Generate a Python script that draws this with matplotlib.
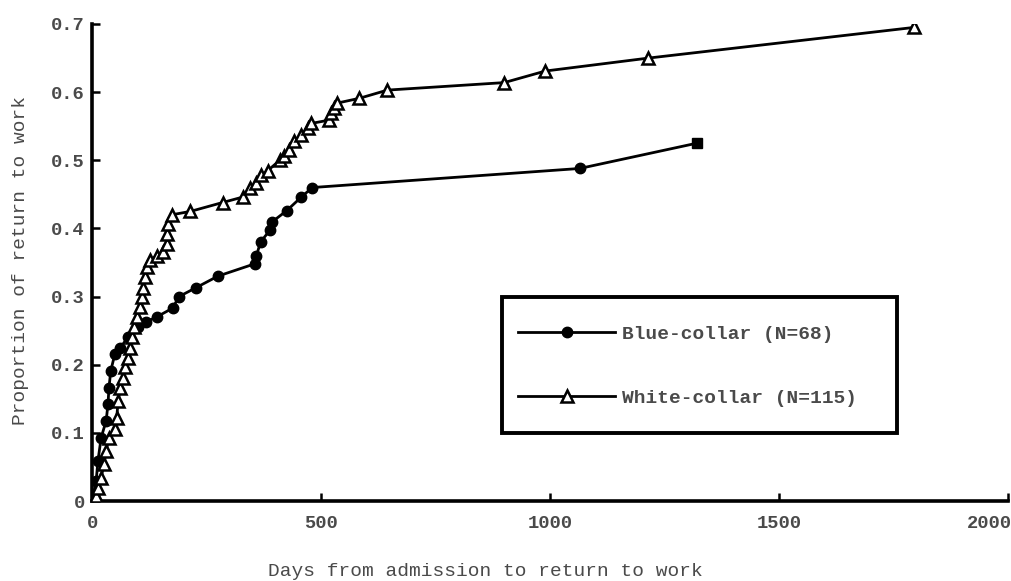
import matplotlib
matplotlib.use("Agg")
import matplotlib.pyplot as plt
from matplotlib.patches import Rectangle
from matplotlib.lines import Line2D
from matplotlib.transforms import ScaledTranslation

# ---- data ----
blue_days = [0, 4, 9, 13, 20, 31, 35, 37, 41, 50, 62, 78, 100, 118, 141, 176, 190,
             227, 275, 355, 359, 368, 388, 394, 425, 457, 481, 1065, 1320]
blue_prop = [0.0, 0.01, 0.029, 0.059, 0.093, 0.118, 0.143, 0.166, 0.191, 0.216, 0.225,
             0.24, 0.255, 0.263, 0.27, 0.283, 0.30, 0.313, 0.33, 0.348, 0.36, 0.38,
             0.397, 0.41, 0.426, 0.446, 0.46, 0.488, 0.525]

white_days = [0, 9, 13, 20, 26, 31, 37, 50, 54, 57, 62, 68, 72, 78, 83, 87, 92, 98,
              105, 109, 112, 115, 120, 127, 141, 155, 163, 164, 167, 174, 215, 285,
              329, 344, 359, 370, 384, 410, 420, 431, 442, 457, 471, 478, 518, 522,
              529, 536, 584, 645, 900, 990, 1215, 1795]
white_prop = [0.0, 0.007, 0.019, 0.034, 0.054, 0.074, 0.093, 0.105, 0.122, 0.147,
              0.166, 0.181, 0.196, 0.21, 0.225, 0.24, 0.255, 0.27, 0.284, 0.299,
              0.313, 0.328, 0.343, 0.353, 0.36, 0.365, 0.377, 0.392, 0.407, 0.42,
              0.425, 0.438, 0.446, 0.459, 0.466, 0.478, 0.485, 0.50, 0.507, 0.515,
              0.529, 0.537, 0.547, 0.554, 0.559, 0.569, 0.576, 0.584, 0.591, 0.603,
              0.614, 0.631, 0.65, 0.695]

labels = ["Blue-collar (N=68)", "White-collar (N=115)"]
x_ticks = [0, 500, 1000, 1500, 2000]
y_ticks = [0, 0.1, 0.2, 0.3, 0.4, 0.5, 0.6, 0.7]
y_ticklabels = ["0", "0.1", "0.2", "0.3", "0.4", "0.5", "0.6", "0.7"]
xlabel = "Days from admission to return to work"
ylabel = "Proportion of return to work"

# ---- style ----
FONT = "Liberation Mono"
TXT = "#4a4a4a"
WEIGHT = "bold"
plt.rcParams["font.family"] = [FONT, "DejaVu Sans Mono"]
plt.rcParams["font.weight"] = WEIGHT

W, H = 1011, 581
fig = plt.figure(figsize=(W / 100, H / 100), dpi=100)
ax = fig.add_axes([92 / W, (H - 501) / H, (1008 - 92) / W, (501 - 24) / H])

ax.set_xlim(0, 2000)
ax.set_ylim(0, 0.7)

LW = 2.0
# curves
n_b = len(blue_days)
ax.plot(blue_days, blue_prop, color="black", lw=LW, marker="o", ms=7.5,
        mfc="black", mec="black", markevery=list(range(n_b - 1)), zorder=3)
ax.plot(blue_days[-1:], blue_prop[-1:], linestyle="none", marker="s", ms=7,
        mfc="black", mec="black", zorder=3)
ax.plot(white_days, white_prop, color="black", lw=LW, marker="^", ms=8,
        mfc="white", mec="black", mew=1.8, zorder=4)

# spines & ticks
for s in ["top", "right"]:
    ax.spines[s].set_visible(False)
for s in ["left", "bottom"]:
    ax.spines[s].set_linewidth(2.6)
ax.set_xticks(x_ticks)
ax.set_yticks(y_ticks)
ax.set_yticklabels(y_ticklabels)
ax.tick_params(direction="in", length=6, width=1.8, colors="black",
               labelcolor=TXT, labelsize=13.5)
ax.tick_params(axis="x", pad=10)
ax.tick_params(axis="y", pad=5)

# shift the last x tick label left (it is cut at the image edge in the reference)
fig.canvas.draw()
lab = ax.get_xticklabels()[-1]
lab.set_transform(lab.get_transform() + ScaledTranslation(-19 / 100, 0, fig.dpi_scale_trans))

ax.set_xlabel(xlabel, fontsize=14, color=TXT, va="center")
ax.xaxis.set_label_coords(0.429, -0.147)
ax.set_ylabel(ylabel, fontsize=14, color=TXT, va="center")
ax.yaxis.set_label_coords(-0.078, 0.504)

# legend with rectangular frame
x0, x1 = (502 - 92) / 916, (897 - 92) / 916
y1, y0 = (501 - 297) / 477, (501 - 433) / 477
ax.add_patch(Rectangle((x0, y0), x1 - x0, y1 - y0, transform=ax.transAxes,
                       fill=False, lw=2.8, ec="black", zorder=5))
handles = [
    Line2D([], [], color="black", lw=LW, marker="o", ms=7.5, mfc="black", mec="black"),
    Line2D([], [], color="black", lw=LW, marker="^", ms=8, mfc="white", mec="black", mew=1.8),
]
leg = ax.legend(handles, labels, loc="upper left",
                bbox_to_anchor=((518 - 92) / 916, (501 - 325) / 477),
                frameon=False, borderpad=0, borderaxespad=0,
                handlelength=5.0, handletextpad=0.35, labelspacing=2.4,
                prop={"family": FONT, "size": 14, "weight": WEIGHT}, numpoints=1)
for t in leg.get_texts():
    t.set_color(TXT)

fig.savefig("out.png", dpi=100, facecolor="white")
